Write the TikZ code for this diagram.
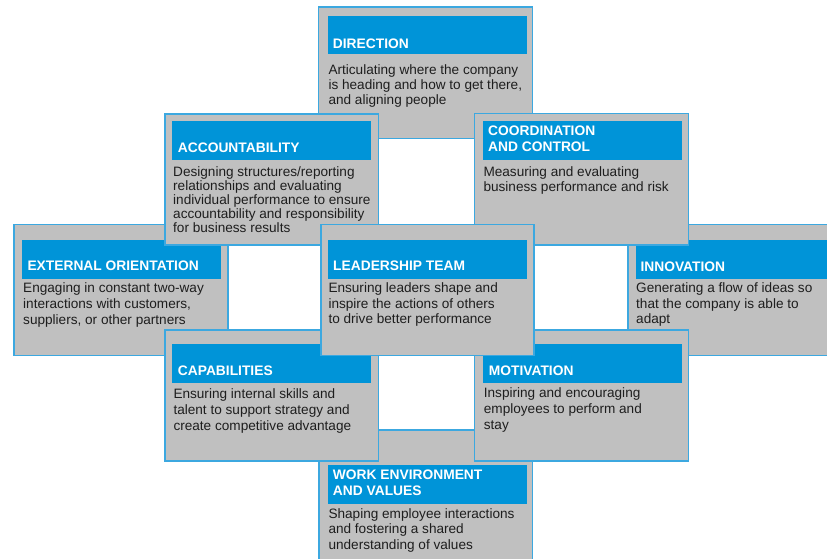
\documentclass[tikz,border=0pt]{standalone}
\usepackage{fontspec}
\setmainfont{Liberation Sans}
\definecolor{cardgray}{RGB}{192,192,192}
\definecolor{cardline}{RGB}{60,168,224}
\definecolor{headblue}{RGB}{0,148,216}
\definecolor{bodyink}{RGB}{30,30,30}
\newcommand\mybody[2]{\parbox[t]{205pt}{\fontsize{13.6}{#1}\selectfont\raggedright #2}}
\newcommand\mytitle[1]{\parbox[b]{205pt}{\fontsize{13.8}{15.8}\selectfont\bfseries\raggedright #1}}
\tikzset{
  cardbox/.style={fill=cardgray, draw=cardline, line width=1.1pt},
  cardhead/.style={fill=headblue},
  cardtitle/.style={inner sep=0pt, anchor=base west, text=white},
  cardtext/.style={inner sep=0pt, anchor=base west, text=bodyink}
}
\begin{document}
\begin{tikzpicture}[x=1pt,y=-1pt]
\useasboundingbox (0,0) rectangle (827,558);
% DIRECTION
\draw[cardbox] (318.5,7) rectangle (532.5,138.5);
\fill[cardhead] (328,16) rectangle (527,54.3);
\node[cardtitle] (dirT) at (332.7,48.3) {\mytitle{DIRECTION}};
\node[cardtext] (dirB) at (328.3,74) {\mybody{15.3}{Articulating where the company\\is heading and how to get there,\\and aligning people}};
% EXTERNAL ORIENTATION
\draw[cardbox] (14,224.5) rectangle (228,355.5);
\fill[cardhead] (22,240) rectangle (221,278.7);
\node[cardtitle] (extT) at (27.3,270.7) {\mytitle{EXTERNAL ORIENTATION}};
\node[cardtext] (extB) at (23,292.3) {\mybody{16.3}{Engaging in constant two-way\\interactions with customers,\\suppliers, or other partners}};
% INNOVATION
\draw[cardbox] (628,224.5) rectangle (842,355.5);
\fill[cardhead] (635.5,240) rectangle (835,278.7);
\node[cardtitle] (innT) at (640.3,271) {\mytitle{INNOVATION}};
\node[cardtext] (innB) at (636,292.3) {\mybody{15.7}{Generating a flow of ideas so\\that the company is able to\\adapt}};
% WORK ENVIRONMENT AND VALUES
\draw[cardbox] (319,430) rectangle (532.5,561);
\fill[cardhead] (328,465) rectangle (527,503.7);
\node[cardtitle] (wrkT) at (332.7,495) {\mytitle{WORK ENVIRONMENT\\AND VALUES}};
\node[cardtext] (wrkB) at (328.3,518.3) {\mybody{15.5}{Shaping employee interactions\\and fostering a shared\\understanding of values}};
% ACCOUNTABILITY
\draw[cardbox] (165,114) rectangle (378.5,245);
\fill[cardhead] (172,121) rectangle (371,160);
\node[cardtitle] (accT) at (177.7,152.3) {\mytitle{ACCOUNTABILITY}};
\node[cardtext] (accB) at (173,176) {\mybody{14.2}{Designing structures/reporting\\relationships and evaluating\\individual performance to ensure\\accountability and responsibility\\for business results}};
% COORDINATION AND CONTROL
\draw[cardbox] (474.5,113.5) rectangle (688.5,245);
\fill[cardhead] (483,121) rectangle (682,160);
\node[cardtitle] (cooT) at (488,151.7) {\mytitle{COORDINATION\\AND CONTROL}};
\node[cardtext] (cooB) at (483.3,176) {\mybody{15}{Measuring and evaluating\\business performance and risk}};
% CAPABILITIES
\draw[cardbox] (165,330) rectangle (378.5,461);
\fill[cardhead] (172,344) rectangle (371,382.7);
\node[cardtitle] (capT) at (177.7,375) {\mytitle{CAPABILITIES}};
\node[cardtext] (capB) at (173.3,398.3) {\mybody{16}{Ensuring internal skills and\\talent to support strategy and\\create competitive advantage}};
% MOTIVATION
\draw[cardbox] (474.5,330) rectangle (688.5,461);
\fill[cardhead] (483,344) rectangle (682,382.7);
\node[cardtitle] (motT) at (488.7,375.3) {\mytitle{MOTIVATION}};
\node[cardtext] (motB) at (483.7,397.3) {\mybody{16}{Inspiring and encouraging\\employees to perform and\\stay}};
% LEADERSHIP TEAM
\draw[cardbox] (321,224.5) rectangle (534,355.5);
\fill[cardhead] (328,240) rectangle (527,278.7);
\node[cardtitle] (leaT) at (333,270.7) {\mytitle{LEADERSHIP TEAM}};
\node[cardtext] (leaB) at (328.3,292.3) {\mybody{15.7}{Ensuring leaders shape and\\inspire the actions of others\\to drive better performance}};
\end{tikzpicture}
\end{document}
